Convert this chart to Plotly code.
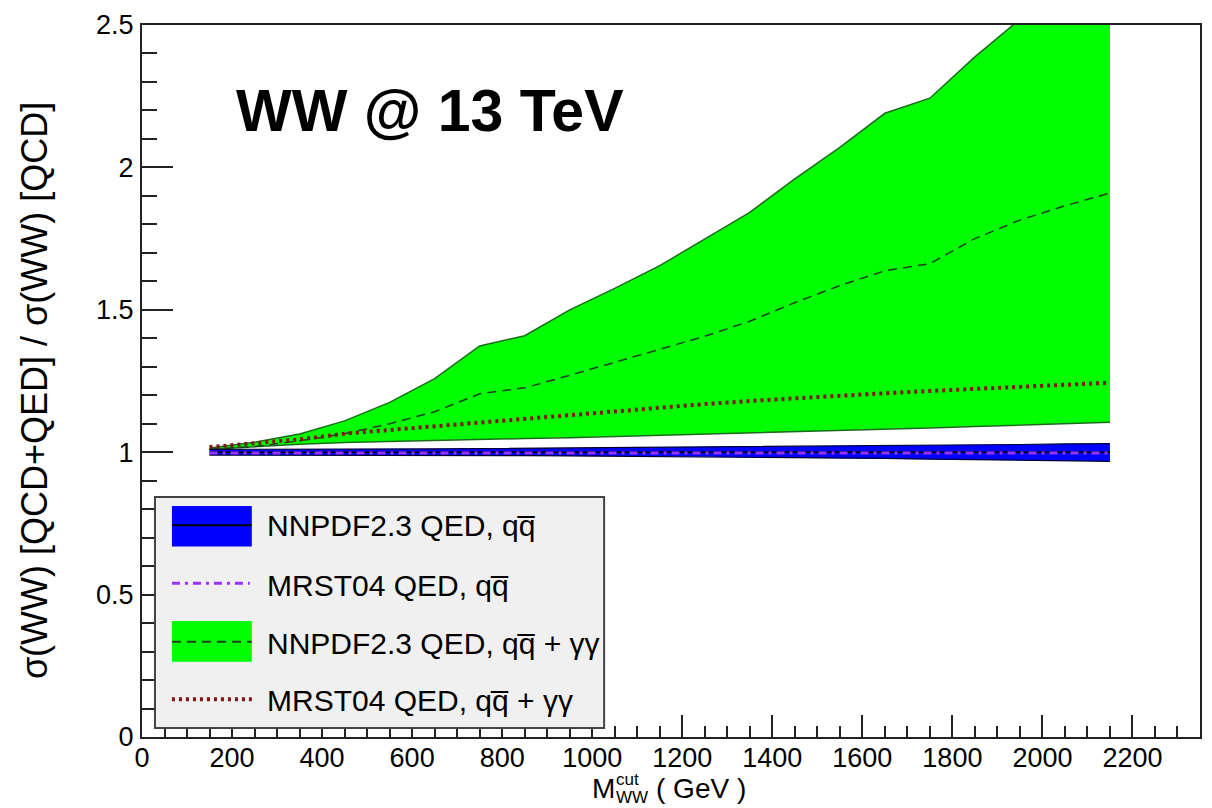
import plotly.graph_objects as go

# Cut on the WW invariant mass (GeV)
m_cut = [150, 250, 350, 450, 550, 650, 750, 850, 950, 1050, 1150,
         1250, 1350, 1450, 1550, 1650, 1750, 1850, 1950, 2050, 2150]

# NNPDF2.3 QED, q qbar only: central value and PDF band
nn_qq_central = [1.0] * 21
nn_qq_upper = [1.010, 1.010, 1.011, 1.011, 1.012, 1.012, 1.013, 1.014, 1.015, 1.016, 1.017,
               1.018, 1.019, 1.020, 1.022, 1.023, 1.024, 1.026, 1.027, 1.029, 1.030]
nn_qq_lower = [0.990, 0.990, 0.990, 0.989, 0.989, 0.989, 0.988, 0.988, 0.987, 0.986, 0.985,
               0.984, 0.983, 0.981, 0.979, 0.978, 0.976, 0.974, 0.972, 0.970, 0.968]

# MRST04 QED, q qbar only
mrst_qq = [0.997] * 21

# NNPDF2.3 QED, q qbar + photon-photon: central value and PDF band
nn_all_central = [1.010, 1.020, 1.040, 1.065, 1.100, 1.142, 1.205, 1.226, 1.270, 1.315, 1.360,
                  1.407, 1.460, 1.525, 1.585, 1.637, 1.662, 1.750, 1.815, 1.865, 1.910]
nn_all_upper = [1.015, 1.035, 1.064, 1.110, 1.175, 1.258, 1.373, 1.409, 1.500, 1.575, 1.655,
                1.750, 1.842, 1.960, 2.070, 2.190, 2.243, 2.388, 2.520, 2.660, 2.800]
nn_all_lower = [1.010, 1.020, 1.028, 1.034, 1.038, 1.042, 1.045, 1.048, 1.051, 1.055, 1.059,
                1.063, 1.067, 1.071, 1.075, 1.080, 1.085, 1.090, 1.095, 1.100, 1.105]

# MRST04 QED, q qbar + photon-photon
mrst_all = [1.018, 1.030, 1.045, 1.065, 1.078, 1.092, 1.107, 1.120, 1.133, 1.146, 1.158,
            1.169, 1.180, 1.190, 1.199, 1.207, 1.215, 1.223, 1.230, 1.237, 1.244]

x_ticks = list(range(0, 2201, 200))
y_ticks = [0, 0.5, 1, 1.5, 2, 2.5]
y_tick_text = ["0", "0.5", "1", "1.5", "2", "2.5"]

FONT = "Liberation Sans, Arial, Helvetica, sans-serif"
GREEN = "#00ff00"
GREEN_EDGE = "#1c6b1c"
BLUE = "#0000ff"
VIOLET = "#9933ff"
DARKRED = "#801515"

W, H = 1212, 808
ML, MR, MT, MB = 142, 10, 19, 71
PW, PH = W - ML - MR, H - MT - MB


def xp(px):
    return (px - ML) / PW


def yp(py):
    return (H - MB - py) / PH


fig = go.Figure()

# green band: q qbar + gamma gamma
fig.add_trace(go.Scatter(
    x=m_cut + m_cut[::-1], y=nn_all_upper + nn_all_lower[::-1],
    fill="toself", fillcolor=GREEN, line=dict(width=0), mode="lines",
    hoverinfo="skip"))
for edge in (nn_all_upper, nn_all_lower):
    fig.add_trace(go.Scatter(x=m_cut, y=edge, mode="lines",
                             line=dict(color=GREEN_EDGE, width=1.5)))
fig.add_trace(go.Scatter(x=m_cut, y=nn_all_central, mode="lines",
                         line=dict(color="#1e3f1e", width=1.5, dash="9px,6px")))

# blue band: q qbar only
fig.add_trace(go.Scatter(
    x=m_cut + m_cut[::-1], y=nn_qq_upper + nn_qq_lower[::-1],
    fill="toself", fillcolor=BLUE, line=dict(width=0), mode="lines",
    hoverinfo="skip"))
for edge in (nn_qq_upper, nn_qq_lower):
    fig.add_trace(go.Scatter(x=m_cut, y=edge, mode="lines",
                             line=dict(color="#000033", width=1.2)))
fig.add_trace(go.Scatter(x=m_cut, y=nn_qq_central, mode="lines",
                         line=dict(color="black", width=1.5)))

# MRST04 curves
fig.add_trace(go.Scatter(x=m_cut, y=mrst_qq, mode="lines",
                         line=dict(color=VIOLET, width=3, dash="8px,5px,3px,5px")))
fig.add_trace(go.Scatter(x=m_cut, y=mrst_all, mode="lines",
                         line=dict(color=DARKRED, width=4, dash="3px,4px")))

axis_common = dict(
    showline=True, linecolor="#222222", linewidth=2, mirror=True,
    ticks="inside", tickcolor="#222222", tickwidth=2,
    showgrid=False, zeroline=False,
    tickfont=dict(family=FONT, size=27, color="black"),
)
fig.update_xaxes(range=[0, 2350], tickvals=x_ticks, ticklen=22,
                 minor=dict(dtick=50, tick0=0, ticklen=11, ticks="inside",
                            tickcolor="#222222", tickwidth=2, showgrid=False),
                 ticklabelstandoff=-4, **axis_common)
fig.update_yaxes(range=[0, 2.5], tickvals=y_ticks, ticktext=y_tick_text,
                 ticklen=31,
                 minor=dict(dtick=0.1, tick0=0, ticklen=15, ticks="inside",
                            tickcolor="#222222", tickwidth=2, showgrid=False),
                 ticklabelstandoff=1, **axis_common)

shapes = []
annotations = []

# legend box
shapes.append(dict(type="rect", xref="paper", yref="paper",
                   x0=xp(155), x1=xp(605), y0=yp(728), y1=yp(495),
                   fillcolor="#f0f0f0", line=dict(color="#444444", width=2), layer="above"))
# row 1: blue band with black central line
shapes.append(dict(type="rect", xref="paper", yref="paper",
                   x0=xp(172), x1=xp(252), y0=yp(545), y1=yp(504),
                   fillcolor=BLUE, line=dict(width=0), layer="above"))
shapes.append(dict(type="line", xref="paper", yref="paper",
                   x0=xp(172), x1=xp(252), y0=yp(523.5), y1=yp(523.5),
                   line=dict(color="black", width=2), layer="above"))
# row 2: violet dash-dot
shapes.append(dict(type="line", xref="paper", yref="paper",
                   x0=xp(172), x1=xp(250), y0=yp(582), y1=yp(582),
                   line=dict(color=VIOLET, width=3, dash="8px,5px,3px,5px"), layer="above"))
# row 3: green band with dashed central line
shapes.append(dict(type="rect", xref="paper", yref="paper",
                   x0=xp(172), x1=xp(252), y0=yp(661), y1=yp(620),
                   fillcolor=GREEN, line=dict(width=0), layer="above"))
shapes.append(dict(type="line", xref="paper", yref="paper",
                   x0=xp(172), x1=xp(252), y0=yp(641), y1=yp(641),
                   line=dict(color="#1e3f1e", width=2, dash="9px,6px"), layer="above"))
# row 4: dark red dotted
shapes.append(dict(type="line", xref="paper", yref="paper",
                   x0=xp(172), x1=xp(252), y0=yp(699), y1=yp(699),
                   line=dict(color=DARKRED, width=4, dash="3px,4px"), layer="above"))

QQB = "q" + "q\u0305"
legend_labels = [
    "NNPDF2.3 QED, " + QQB,
    "MRST04 QED, " + QQB,
    "NNPDF2.3 QED, " + QQB + " + \u03b3\u03b3",
    "MRST04 QED, " + QQB + " + \u03b3\u03b3",
]
legend_rows = [524, 584, 643, 700]
for label, row in zip(legend_labels, legend_rows):
    annotations.append(dict(xref="paper", yref="paper", x=xp(265), y=yp(row),
                            xanchor="left", yanchor="middle", showarrow=False,
                            text=label, font=dict(family=FONT, size=30, color="black")))

# plot label
annotations.append(dict(xref="paper", yref="paper", x=xp(234), y=yp(106),
                        xanchor="left", yanchor="middle", showarrow=False,
                        text="<b>WW @ 13 TeV</b>",
                        font=dict(family=FONT, size=59, color="black")))

# y-axis title
annotations.append(dict(xref="paper", yref="paper", x=xp(35), y=yp(388),
                        xanchor="center", yanchor="middle", showarrow=False, textangle=-90,
                        text="\u03c3(WW) [QCD+QED] / \u03c3(WW) [QCD]",
                        font=dict(family=FONT, size=36, color="black")))

# x-axis title, with stacked sub/superscript
annotations.append(dict(xref="paper", yref="paper", x=xp(591), y=yp(789),
                        xanchor="left", yanchor="middle", showarrow=False,
                        text="M", font=dict(family=FONT, size=28, color="black")))
annotations.append(dict(xref="paper", yref="paper", x=xp(615), y=yp(780),
                        xanchor="left", yanchor="middle", showarrow=False,
                        text="cut", font=dict(family=FONT, size=17, color="black")))
annotations.append(dict(xref="paper", yref="paper", x=xp(615), y=yp(798),
                        xanchor="left", yanchor="middle", showarrow=False,
                        text="WW", font=dict(family=FONT, size=17, color="black")))
annotations.append(dict(xref="paper", yref="paper", x=xp(655), y=yp(789),
                        xanchor="left", yanchor="middle", showarrow=False,
                        text="( GeV )", font=dict(family=FONT, size=28, color="black")))

fig.update_layout(
    width=W, height=H,
    margin=dict(l=ML, r=MR, t=MT, b=MB),
    paper_bgcolor="white", plot_bgcolor="white",
    showlegend=False,
    shapes=shapes, annotations=annotations,
)

fig.write_html("out.html")
